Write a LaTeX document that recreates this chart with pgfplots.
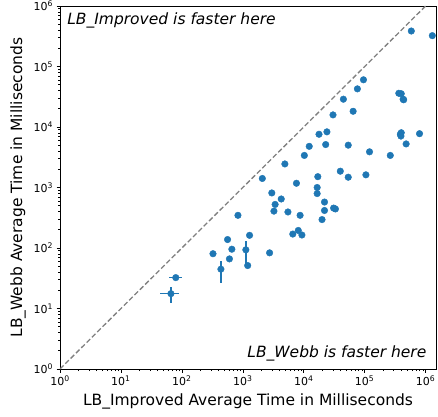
\documentclass[border=0pt]{standalone}
\usepackage{pgfplots}
\pgfplotsset{compat=1.18}
\usepackage{fontspec}
\setmainfont{DejaVu Sans}
\definecolor{mplblue}{HTML}{1F77B4}
\begin{document}
\begin{tikzpicture}
\begin{axis}[
  name=ax,
  at={(0,0)}, anchor=south west,
  scale only axis, width=376pt, height=363pt,
  xmode=log, ymode=log,
  xmin=1, xmax=1480000, ymin=1, ymax=1000000,
  xtick={1,10,100,1000,10000,100000,1000000},
  ytick={1,10,100,1000,10000,100000,1000000},
  xticklabels={10\textsuperscript{0},10\textsuperscript{1},10\textsuperscript{2},10\textsuperscript{3},10\textsuperscript{4},10\textsuperscript{5},10\textsuperscript{6}},
  yticklabels={10\textsuperscript{0},10\textsuperscript{1},10\textsuperscript{2},10\textsuperscript{3},10\textsuperscript{4},10\textsuperscript{5},10\textsuperscript{6}},
  ticklabel style={font=\fontsize{11}{13}\selectfont},
  tick align=outside, tick pos=left,
  major tick length=3.5pt, minor tick length=2pt,
  every tick/.style={black, line width=0.6pt},
  axis line style={line width=0.8pt},
  xlabel={LB\_Improved Average Time in Milliseconds},
  ylabel={LB\_Webb Average Time in Milliseconds},
  label style={font=\fontsize{15.5}{18}\selectfont},
  xlabel style={yshift=-1pt},
  ylabel style={yshift=1pt},
]
\addplot[gray, line width=1.3pt, dash pattern=on 5pt off 2.5pt, forget plot] coordinates {(1,1) (10000000,10000000)};
\addplot[only marks, mark=*, mark size=3.3pt, color=mplblue, mark options={draw=mplblue, fill=mplblue},
  error bars/.cd, x dir=both, y dir=both, x explicit, y explicit,
  error bar style={line width=1.3pt, mplblue}, error mark=none]
  table[x=x, y=y, x error plus=xp, x error minus=xm, y error plus=yp, y error minus=ym] {
x y xp xm yp ym
582000 386000 0 0 0 0
1288000 323600 0 0 0 0
95500 60300 0 0 0 0
75900 42700 0 0 0 0
44700 28800 0 0 0 0
363000 36100 0 0 0 0
398000 35500 0 0 0 0
427000 28800 0 0 0 0
436500 28200 0 0 0 0
64600 18200 0 0 0 0
30200 15850 0 0 0 0
17800 7590 0 0 0 0
24000 8320 0 0 0 0
12300 4790 0 0 0 0
22900 5130 0 0 0 0
53700 5010 0 0 0 0
384600 7590 0 0 0 0
398000 8040 0 0 0 0
393600 7080 0 0 0 0
794000 7760 0 0 0 0
478600 5250 0 0 0 0
120000 3890 0 0 0 0
263000 3390 0 0 0 0
10230 3390 0 0 0 0
4900 2450 0 0 0 0
39800 1860 0 0 0 0
17000 1510 0 0 0 0
53700 1480 0 0 0 0
104700 1620 0 0 0 0
2090 1410 0 0 0 0
7590 1175 0 0 0 0
16600 1000 0 0 0 0
16600 794 0 0 0 0
2990 813 0 0 0 0
4270 646 0 0 0 0
3390 525 0 0 0 0
21900 575 0 0 0 0
3240 407 0 0 0 0
5500 394 0 0 0 0
21900 417 0 0 0 0
30900 457 0 0 0 0
33100 442 0 0 0 0
832 347 0 0 0 0
8710 347 0 0 0 0
19950 295 0 0 0 0
8130 195 0 0 0 0
6610 170 0 0 0 0
9330 164 0 0 0 0
562 138 0 0 0 0
1290 162 0 0 0 0
661 95.5 0 0 0 0
324 80.4 0 0 0 0
2750 83.2 0 0 0 0
603 66.1 0 0 0 0
1122 93.3 0 0 35.7 38.3
1202 51.3 0 0 4 4
437 44.7 0 0 17 17.8
79.4 32.4 19.5 17.7 0 0
66.1 17.6 25.1 21.9 4.8 5.1
};
\node[anchor=north west, inner sep=0pt, font=\fontsize{15.5}{18}\selectfont\itshape] at (rel axis cs:0.019,0.981) {LB\_Improved is faster here};
\node[anchor=south east, inner sep=0pt, font=\fontsize{15.5}{18}\selectfont\itshape] at (rel axis cs:0.975,0.02) {LB\_Webb is faster here};
\end{axis}
\pgfresetboundingbox
\path[use as bounding box] (-60pt,-47pt) rectangle (378pt,369pt);
\end{tikzpicture}
\end{document}
